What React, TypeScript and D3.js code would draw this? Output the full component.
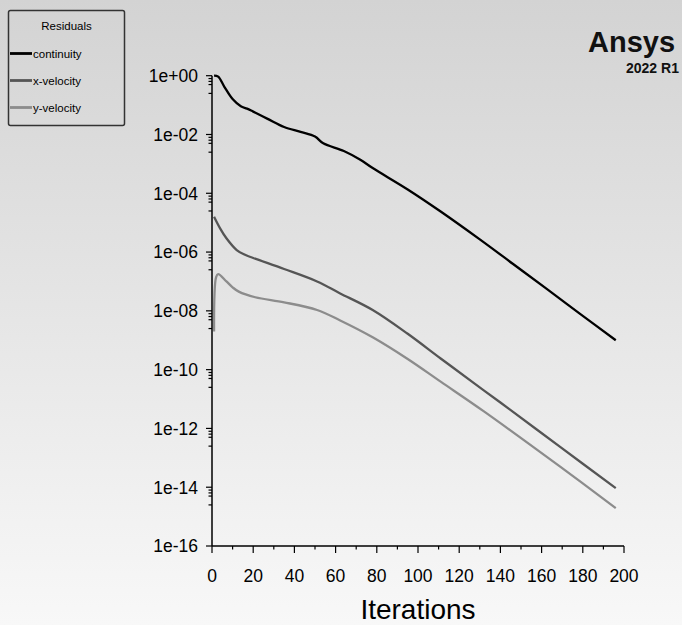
import React from 'react';
import * as d3 from 'd3';

const seriesNames = ['continuity', 'x-velocity', 'y-velocity'];
const seriesColors = ['#000000', '#555555', '#8c8c8c'];

const continuityIter = [1, 3, 6, 10, 14, 17, 20, 27, 35, 43, 50, 54, 64, 72, 78, 95, 111, 130, 146, 162, 179, 196];
const continuityValues = [1, 0.93, 0.42, 0.16, 0.091, 0.076, 0.06, 0.034, 0.018, 0.0123, 0.0085, 0.005, 0.00275, 0.00138, 0.00072, 1.35e-4, 2.4e-5, 2.7e-6, 4.0e-7, 5.9e-8, 7.6e-9, 1.0e-9];

const xVelIter = [1, 4, 7, 12, 16, 20, 35, 51, 62, 78, 95, 111, 127, 140, 169, 196];
const xVelValues = [1.6e-5, 6.3e-6, 2.95e-6, 1.17e-6, 8.1e-7, 6.3e-7, 2.65e-7, 1.0e-7, 4.0e-8, 1.07e-8, 1.66e-9, 2.4e-10, 3.55e-11, 7.6e-12, 2.35e-13, 9.3e-15];

const yVelIter = [1, 2, 3, 7, 10, 13, 21, 35, 51, 62, 78, 95, 111, 132, 169, 196];
const yVelValues = [2.0e-9, 1.4e-7, 1.78e-7, 1.0e-7, 6.3e-8, 4.5e-8, 2.9e-8, 1.95e-8, 1.07e-8, 4.8e-9, 1.26e-9, 2.3e-10, 3.9e-11, 3.8e-12, 5.0e-14, 1.95e-15];

const xMajorTicks = [0, 20, 40, 60, 80, 100, 120, 140, 160, 180, 200];
const xMinorTicks = [10, 30, 50, 70, 90, 110, 130, 150, 170, 190];
const yMajorTicks = [1, 1e-2, 1e-4, 1e-6, 1e-8, 1e-10, 1e-12, 1e-14, 1e-16];
const yMinorFactors = [0.8, 0.64, 0.5, 0.25];

const W = 682;
const H = 625;
const FONT = '"Liberation Sans", Arial, sans-serif';

function fmtExp(v: number): string {
  const e = Math.round(Math.log10(v));
  const sign = e < 0 ? '-' : '+';
  const a = Math.abs(e);
  return '1e' + sign + (a < 10 ? '0' + a : String(a));
}

export default function App() {
  const x = d3.scaleLinear().domain([0, 200]).range([212, 624]);
  const y = d3.scaleLog().domain([1e-16, 1]).range([546, 75.7]);

  const series = [
    { it: continuityIter, v: continuityValues },
    { it: xVelIter, v: xVelValues },
    { it: yVelIter, v: yVelValues },
  ];

  const line = d3
    .line<[number, number]>()
    .x((d) => x(d[0]))
    .y((d) => y(d[1]))
    .curve(d3.curveCatmullRom.alpha(0.5));

  const yMinor: number[] = [];
  yMajorTicks.forEach((m) => {
    if (m > 1e-16) yMinorFactors.forEach((f) => yMinor.push(m * f));
  });

  return (
    <svg width={W} height={H} style={{ position: 'absolute', left: 0, top: 0, display: 'block' }} fontFamily={FONT}>
      <defs>
        <linearGradient id="bg" x1="0" y1="0" x2="0" y2="1">
          <stop offset="0" stopColor="#d3d3d3" />
          <stop offset="1" stopColor="#f8f8f8" />
        </linearGradient>
      </defs>
      <rect x={0} y={0} width={W} height={H} fill="url(#bg)" />

      {series.map((s, i) => (
        <path
          key={seriesNames[i]}
          d={line(s.it.map((t, k) => [t, s.v[k]] as [number, number])) || ''}
          fill="none"
          stroke={seriesColors[i]}
          strokeWidth={2.3}
          strokeLinejoin="round"
        />
      ))}

      <line x1={x(0)} x2={x(200)} y1={y(1e-16)} y2={y(1e-16)} stroke="#000" strokeWidth={1.5} />
      <line x1={x(0)} x2={x(0)} y1={y(1e-16)} y2={y(1)} stroke="#000" strokeWidth={1.5} />
      {xMajorTicks.map((t) => (
        <g key={'xm' + t}>
          <line x1={x(t)} x2={x(t)} y1={y(1e-16)} y2={y(1e-16) + 7} stroke="#000" strokeWidth={1.2} />
          <text x={x(t)} y={y(1e-16) + 36} textAnchor="middle" fontSize={17.5} fill="#000">
            {t}
          </text>
        </g>
      ))}
      {xMinorTicks.map((t) => (
        <line key={'xn' + t} x1={x(t)} x2={x(t)} y1={y(1e-16)} y2={y(1e-16) + 3.5} stroke="#000" strokeWidth={1.2} />
      ))}
      {yMajorTicks.map((t) => (
        <g key={'ym' + t}>
          <line x1={x(0) - 6} x2={x(0)} y1={y(t)} y2={y(t)} stroke="#000" strokeWidth={1.2} />
          <text x={x(0) - 14} y={y(t)} dy="0.36em" textAnchor="end" fontSize={17.5} fill="#000">
            {fmtExp(t)}
          </text>
        </g>
      ))}
      {yMinor.map((t, i) => (
        <line key={'yn' + i} x1={x(0) - 3.5} x2={x(0)} y1={y(t)} y2={y(t)} stroke="#000" strokeWidth={1.2} />
      ))}

      <text x={(x(0) + x(200)) / 2} y={619} textAnchor="middle" fontSize={28} fill="#000">
        Iterations
      </text>

      <text x={588} y={52} fontSize={29} fontWeight="bold" fill="#111">
        Ansys
      </text>
      <text x={626} y={73} fontSize={14} fontWeight="bold" fill="#111">
        2022 R1
      </text>

      <rect x={8.5} y={10.5} width={116} height={115} rx={2} fill="none" stroke="#333" strokeWidth={1.5} />
      <text x={66.5} y={30} textAnchor="middle" fontSize={11.5} fill="#000">
        Residuals
      </text>
      {seriesNames.map((n, i) => {
        const ly = 53.5 + i * 27;
        return (
          <g key={'lg' + n}>
            <line x1={10} x2={32} y1={ly} y2={ly} stroke={seriesColors[i]} strokeWidth={2.8} />
            <text x={33} y={ly} dy="0.35em" fontSize={11.5} fill="#000">
              {n}
            </text>
          </g>
        );
      })}
    </svg>
  );
}
